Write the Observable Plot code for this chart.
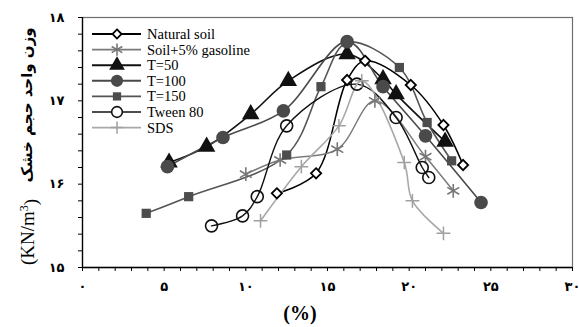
<!DOCTYPE html>
<html><head><meta charset="utf-8">
<script src="https://cdn.jsdelivr.net/npm/d3@7"></script>
<script src="https://cdn.jsdelivr.net/npm/@observablehq/plot@0.6"></script>
<style>body{margin:0;background:#fff}#chart{position:relative;width:579px;height:327px}</style>
</head><body><div id="chart"></div>
<script>
const seriesNames = ["Natural soil","Soil+5% gasoline","T=50","T=100","T=150","Tween 80","SDS"];
const naturalX = [11.9,14.3,16.2,17.3,20.1,22.1,23.3];
const naturalY = [15.89,16.13,17.25,17.48,17.19,16.71,16.23];
const gasolineX = [10.0,12.1,15.6,17.9,21.0,22.7];
const gasolineY = [16.12,16.29,16.42,17.0,16.33,15.92];
const t50X = [5.3,7.6,10.3,12.6,16.2,18.4,19.2,22.2];
const t50Y = [16.26,16.45,16.84,17.24,17.56,17.26,17.08,16.51];
const t100X = [5.2,8.6,12.3,16.2,18.4,21.0,24.4];
const t100Y = [16.21,16.56,16.88,17.71,17.17,16.58,15.78];
const t150X = [3.9,6.5,12.5,14.6,16.2,19.4,21.1,22.6];
const t150Y = [15.65,15.85,16.35,17.17,17.7,17.4,16.74,16.28];
const tweenX = [7.9,9.8,10.7,12.5,16.8,19.2,20.8,21.2];
const tweenY = [15.5,15.62,15.85,16.7,17.2,16.8,16.2,16.08];
const sdsX = [10.9,13.4,15.7,17.1,19.7,20.2,22.1];
const sdsY = [15.56,16.21,16.7,17.24,16.26,15.8,15.41];

const xTickValues = [0,5,10,15,20,25,30];
const xTickLabels = ["۰","۵","۱۰","۱۵","۲۰","۲۵","۳۰"];
const yTickValues = [15,16,17,18];
const yTickLabels = ["۱۵","۱۶","۱۷","۱۸"];
const yTitle = "وزن واحد حجم خشک";
const xTitle = "(%)";

const styles = [
  {xs: naturalX, ys: naturalY, line:"#000", sw:1.5, symbol:"diamond2", fill:"white", mstroke:"#000", msw:1.8, r:4.6},
  {xs: gasolineX, ys: gasolineY, line:"#7a7a7a", sw:1.5, symbol:"asterisk", fill:"none", mstroke:"#777", msw:1.6, r:6.5},
  {xs: t50X, ys: t50Y, line:"#111", sw:1.6, symbol:"triangle", fill:"#111", mstroke:"none", msw:0, r:6.5},
  {xs: t100X, ys: t100Y, line:"#4a4a4a", sw:1.6, symbol:"circle", fill:"#4a4a4a", mstroke:"none", msw:0, r:6.8},
  {xs: t150X, ys: t150Y, line:"#555", sw:1.6, symbol:"square", fill:"#4d4d4d", mstroke:"none", msw:0, r:5.2},
  {xs: tweenX, ys: tweenY, line:"#111", sw:1.4, symbol:"circle", fill:"none", mstroke:"#111", msw:1.6, r:6},
  {xs: sdsX, ys: sdsY, line:"#a8a8a8", sw:1.6, symbol:"plus", fill:"none", mstroke:"#a0a0a0", msw:1.5, r:4.5}
];
const series = styles.map((s,i)=>({...s, name: seriesNames[i], rows: s.xs.map((x,j)=>({series: seriesNames[i], x, y: s.ys[j]}))}));

const xLabelMap = new Map(xTickValues.map((v,i)=>[v, xTickLabels[i]]));
const yLabelMap = new Map(yTickValues.map((v,i)=>[v, yTickLabels[i]]));

const chart = Plot.plot({
  width: 579, height: 327,
  marginLeft: 82, marginRight: 7, marginTop: 17, marginBottom: 60,
  x: {domain: [0,30]},
  y: {domain: [15,18]},
  style: {fontFamily: "DejaVu Sans", fontSize: "13px", color: "#000", background: "#fff"},
  marks: [
    Plot.frame({stroke: "#6e6e6e", strokeWidth: 1.2}),
    Plot.axisX({ticks: d3.range(0,31), tickSize: 4, tickPadding: 10, label: null, fontWeight: "bold",
      tickFormat: d => xLabelMap.get(d) ?? ""}),
    Plot.axisY({ticks: d3.range(0,16).map(i => 15 + i*0.2), tickSize: 4, tickPadding: 14, label: null, fontWeight: "bold",
      tickFormat: d => { const k = Math.round(d); return Math.abs(d-k) < 1e-6 ? (yLabelMap.get(k) ?? "") : ""; }}),
    Plot.ruleX([0], {stroke: "#000", strokeWidth: 1.3}),
    Plot.ruleY([15], {stroke: "#000", strokeWidth: 1.3}),
    ...series.map(s => Plot.line(s.rows, {x: "x", y: "y", stroke: s.line, strokeWidth: s.sw, curve: "catmull-rom"})),
    ...series.map(s => Plot.dot(s.rows, {x: "x", y: "y", symbol: s.symbol, r: s.r, fill: s.fill, stroke: s.mstroke, strokeWidth: s.msw}))
  ]
});
document.getElementById("chart").appendChild(chart);

const svg = d3.select(chart);
// legend
const lg = svg.append("g").attr("text-anchor","start");
series.forEach((s,i) => {
  const y = 34 + i*15.6;
  lg.append("line").attr("x1",92).attr("x2",141).attr("y1",y).attr("y2",y)
    .attr("stroke", s.line).attr("stroke-width", s.sw+0.3);
  const sym = {diamond2: d3.symbolDiamond2, asterisk: d3.symbolAsterisk, triangle: d3.symbolTriangle, circle: d3.symbolCircle, square: d3.symbolSquare, plus: d3.symbolPlus}[s.symbol];
  lg.append("path").attr("transform", `translate(117,${y})`)
    .attr("d", d3.symbol(sym, Math.PI * s.r * s.r * 0.8)())
    .attr("fill", s.fill === "none" && s.symbol === "circle" ? "white" : s.fill).attr("stroke", s.mstroke).attr("stroke-width", s.msw);
  lg.append("text").attr("x",147).attr("y",y).attr("dy","0.35em").attr("text-anchor","start")
    .attr("font-family","Liberation Serif").attr("font-size","14.5px").attr("fill","#000").text(s.name);
});
// y title
svg.append("text").attr("transform","translate(27,105) rotate(-90)").attr("text-anchor","middle").attr("dy","0.35em")
  .attr("font-family","DejaVu Sans").attr("font-weight","bold").attr("font-size","15px").attr("fill","#000").text(yTitle);
const kn = svg.append("text").attr("transform","translate(27,232) rotate(-90)").attr("text-anchor","middle").attr("dy","0.35em")
  .attr("font-family","Liberation Serif").attr("font-size","19px").attr("fill","#000");
kn.append("tspan").text("(KN/m");
kn.append("tspan").attr("dy","-0.45em").attr("font-size","12px").text("3");
kn.append("tspan").attr("dy","0.45em").text(")");
// x title
svg.append("text").attr("x",300).attr("y",313).attr("text-anchor","middle").attr("dy","0.35em")
  .attr("font-family","Liberation Serif").attr("font-weight","bold").attr("font-size","20px").attr("fill","#000").text(xTitle);
</script>
</body></html>
